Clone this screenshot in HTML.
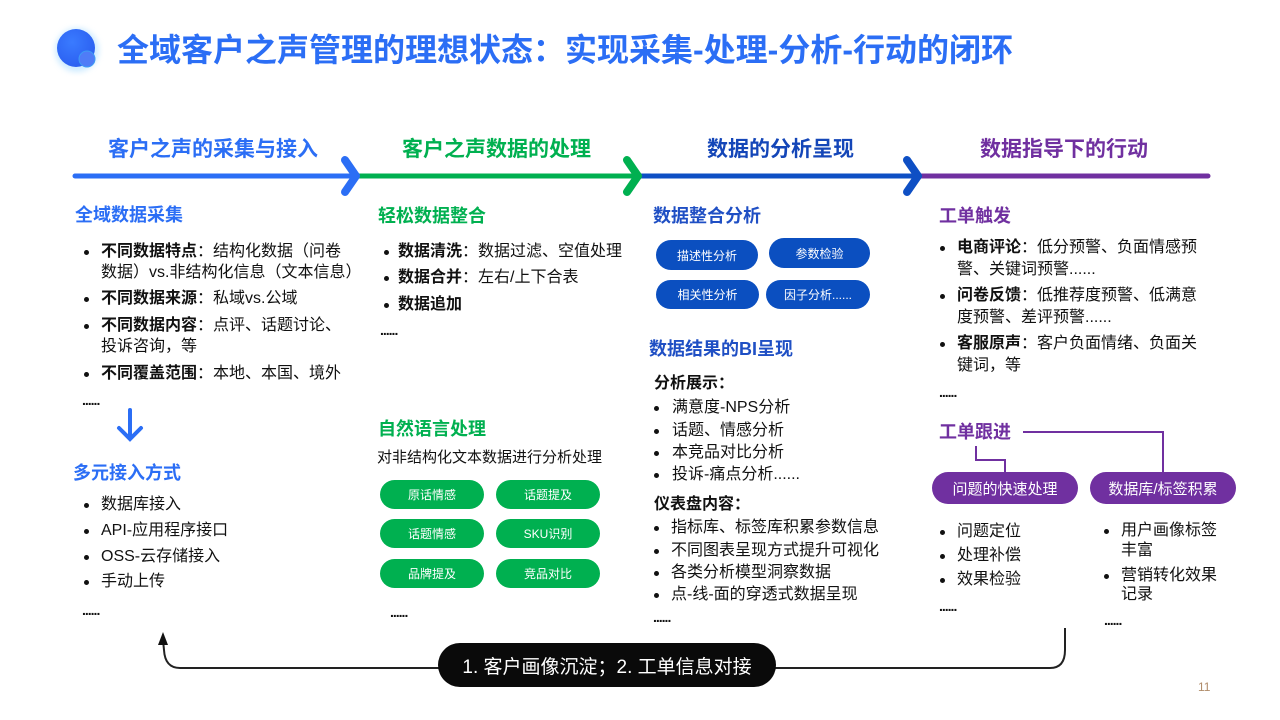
<!DOCTYPE html>
<html><head><meta charset="utf-8"><style>
*{margin:0;padding:0;box-sizing:border-box}
body{width:1280px;height:720px;background:#fff;position:relative;overflow:hidden;font-family:"Liberation Sans","Noto Sans CJK SC",sans-serif;color:#111}
.t{position:absolute;white-space:nowrap;font-size:16px;line-height:20px}
.e{position:absolute;white-space:nowrap;font-size:14px;line-height:20px;font-weight:bold;letter-spacing:-1px}
.h{position:absolute;white-space:nowrap;font-size:18px;line-height:24px;font-weight:bold}
.d{position:absolute;width:5px;height:5px;border-radius:50%;background:#111}
.p{position:absolute;border-radius:16px;color:#fff;font-size:12px;display:flex;align-items:center;justify-content:center}
b{font-weight:bold}
</style></head><body>
<svg width="1280" height="720" style="position:absolute;left:0;top:0">
<defs><radialGradient id="g" cx="0.4" cy="0.35" r="0.7"><stop offset="0" stop-color="#3a7bff"/><stop offset="1" stop-color="#2a5ef0"/></radialGradient>
<filter id="bl"><feGaussianBlur stdDeviation="3"/></filter></defs>
<circle cx="77" cy="50" r="22" fill="#9fd8ff" opacity="0.5" filter="url(#bl)"/>
<circle cx="76" cy="48" r="19" fill="url(#g)"/>
<circle cx="87" cy="59" r="8" fill="#4f7cf7" stroke="#3d9bf5" stroke-width="1"/>
<g stroke-width="5" stroke-linecap="round">
<line x1="75" y1="176" x2="355" y2="176" stroke="#2b6ef5"/>
<line x1="357" y1="176" x2="636" y2="176" stroke="#00b050"/>
<line x1="640" y1="176" x2="915" y2="176" stroke="#0e4fc4"/>
<line x1="920" y1="176" x2="1208" y2="176" stroke="#7030a0"/>
</g>
<g fill="none" stroke-width="8" stroke-linecap="round" stroke-linejoin="round">
<polyline points="345,160 356,176 345,192" stroke="#2b6ef5"/>
<polyline points="627,160 638,176 627,192" stroke="#00b050"/>
<polyline points="907,160 918,176 907,192" stroke="#0e4fc4"/>
</g>
<g fill="none" stroke="#2b6ef5" stroke-width="4" stroke-linecap="round">
<line x1="130" y1="410" x2="130" y2="438"/><polyline points="119,428 130,439 141,428"/>
</g>
<g fill="none" stroke="#7030a0" stroke-width="2">
<polyline points="1023,432 1163,432 1163,473"/>
<polyline points="976,446 976,460 1005,460 1005,473"/>
</g>
<g fill="none" stroke="#222" stroke-width="2">
<path d="M440,668 L180,668 Q165,668 164,650 L163,640"/>
<path d="M775,668 L1050,668 Q1065,668 1065,650 L1065,628"/>
</g>
<polygon points="163,632 158,645 168,645" fill="#111"/>
</svg>
<div class="h" style="left:117px;top:30px;font-size:32px;line-height:40px;color:#2b6ef5">全域客户之声管理的理想状态：实现采集-处理-分析-行动的闭环</div>
<div class="h" style="left:108px;top:136px;font-size:21px;line-height:28px;color:#2b6ef5">客户之声的采集与接入</div>
<div class="h" style="left:402px;top:136px;font-size:21px;line-height:28px;color:#00b050">客户之声数据的处理</div>
<div class="h" style="left:707px;top:136px;font-size:21px;line-height:28px;color:#1446b8">数据的分析呈现</div>
<div class="h" style="left:980px;top:136px;font-size:21px;line-height:28px;color:#7030a0">数据指导下的行动</div>

<div class="h" style="left:75px;top:203px;color:#2b6ef5">全域数据采集</div>
<div class="d" style="left:84px;top:250px"></div><div class="t" style="left:101px;top:242px"><b>不同数据特点</b>：结构化数据（问卷</div>
<div class="t" style="left:101px;top:263px">数据）vs.非结构化信息（文本信息）</div>
<div class="d" style="left:84px;top:297px"></div><div class="t" style="left:101px;top:289px"><b>不同数据来源</b>：私域vs.公域</div>
<div class="d" style="left:84px;top:324px"></div><div class="t" style="left:101px;top:316px"><b>不同数据内容</b>：点评、话题讨论、</div>
<div class="t" style="left:101px;top:337px">投诉咨询，等</div>
<div class="d" style="left:84px;top:372px"></div><div class="t" style="left:101px;top:364px"><b>不同覆盖范围</b>：本地、本国、境外</div>
<div class="e" style="left:82px;top:390px">......</div>
<div class="h" style="left:73px;top:461px;color:#2b6ef5">多元接入方式</div>
<div class="d" style="left:84px;top:503px"></div><div class="t" style="left:101px;top:495px">数据库接入</div>
<div class="d" style="left:84px;top:529px"></div><div class="t" style="left:101px;top:521px">API-应用程序接口</div>
<div class="d" style="left:84px;top:555px"></div><div class="t" style="left:101px;top:547px">OSS-云存储接入</div>
<div class="d" style="left:84px;top:580px"></div><div class="t" style="left:101px;top:572px">手动上传</div>
<div class="e" style="left:82px;top:600px">......</div>

<div class="h" style="left:378px;top:204px;color:#00b050">轻松数据整合</div>
<div class="d" style="left:384px;top:250px"></div><div class="t" style="left:398px;top:242px"><b>数据清洗</b>：数据过滤、空值处理</div>
<div class="d" style="left:384px;top:276px"></div><div class="t" style="left:398px;top:268px"><b>数据合并</b>：左右/上下合表</div>
<div class="d" style="left:384px;top:303px"></div><div class="t" style="left:398px;top:295px"><b>数据追加</b></div>
<div class="e" style="left:380px;top:320px">......</div>
<div class="h" style="left:378px;top:417px;color:#00b050">自然语言处理</div>
<div class="t" style="left:377px;top:448px;font-size:15px">对非结构化文本数据进行分析处理</div>
<div class="p" style="left:380px;top:480px;width:104px;height:29px;background:#00b050">原话情感</div>
<div class="p" style="left:496px;top:480px;width:104px;height:29px;background:#00b050">话题提及</div>
<div class="p" style="left:380px;top:519px;width:104px;height:29px;background:#00b050">话题情感</div>
<div class="p" style="left:496px;top:519px;width:104px;height:29px;background:#00b050">SKU识别</div>
<div class="p" style="left:380px;top:559px;width:104px;height:29px;background:#00b050">品牌提及</div>
<div class="p" style="left:496px;top:559px;width:104px;height:29px;background:#00b050">竞品对比</div>
<div class="e" style="left:390px;top:602px">......</div>

<div class="h" style="left:653px;top:204px;color:#1f4fc4">数据整合分析</div>
<div class="p" style="left:656px;top:240px;width:102px;height:30px;background:#0b4fc0">描述性分析</div>
<div class="p" style="left:769px;top:238px;width:101px;height:30px;background:#0b4fc0">参数检验</div>
<div class="p" style="left:656px;top:280px;width:103px;height:29px;background:#0b4fc0">相关性分析</div>
<div class="p" style="left:766px;top:280px;width:104px;height:29px;background:#0b4fc0">因子分析......</div>
<div class="h" style="left:649px;top:337px;color:#1f4fc4">数据结果的BI呈现</div>
<div class="t" style="left:654px;top:374px;font-weight:bold">分析展示：</div>
<div class="d" style="left:654px;top:406px"></div><div class="t" style="left:672px;top:398px">满意度-NPS分析</div>
<div class="d" style="left:654px;top:429px"></div><div class="t" style="left:672px;top:421px">话题、情感分析</div>
<div class="d" style="left:654px;top:451px"></div><div class="t" style="left:672px;top:443px">本竞品对比分析</div>
<div class="d" style="left:654px;top:473px"></div><div class="t" style="left:672px;top:465px">投诉-痛点分析......</div>
<div class="t" style="left:654px;top:495px;font-weight:bold">仪表盘内容：</div>
<div class="d" style="left:654px;top:526px"></div><div class="t" style="left:671px;top:518px">指标库、标签库积累参数信息</div>
<div class="d" style="left:654px;top:549px"></div><div class="t" style="left:671px;top:541px">不同图表呈现方式提升可视化</div>
<div class="d" style="left:654px;top:571px"></div><div class="t" style="left:671px;top:563px">各类分析模型洞察数据</div>
<div class="d" style="left:654px;top:593px"></div><div class="t" style="left:671px;top:585px">点-线-面的穿透式数据呈现</div>
<div class="e" style="left:653px;top:607px">......</div>

<div class="h" style="left:939px;top:204px;color:#7030a0">工单触发</div>
<div class="d" style="left:940px;top:246px"></div><div class="t" style="left:957px;top:238px"><b>电商评论</b>：低分预警、负面情感预</div>
<div class="t" style="left:957px;top:260px">警、关键词预警......</div>
<div class="d" style="left:940px;top:294px"></div><div class="t" style="left:957px;top:286px"><b>问卷反馈</b>：低推荐度预警、低满意</div>
<div class="t" style="left:957px;top:308px">度预警、差评预警......</div>
<div class="d" style="left:940px;top:342px"></div><div class="t" style="left:957px;top:334px"><b>客服原声</b>：客户负面情绪、负面关</div>
<div class="t" style="left:957px;top:356px">键词，等</div>
<div class="e" style="left:939px;top:382px">......</div>
<div class="h" style="left:939px;top:420px;color:#7030a0">工单跟进</div>
<div class="p" style="left:932px;top:472px;width:146px;height:32px;background:#7030a0;font-size:15px">问题的快速处理</div>
<div class="p" style="left:1090px;top:472px;width:146px;height:32px;background:#7030a0;font-size:15px">数据库/标签积累</div>
<div class="d" style="left:940px;top:530px"></div><div class="t" style="left:957px;top:522px">问题定位</div>
<div class="d" style="left:940px;top:554px"></div><div class="t" style="left:957px;top:546px">处理补偿</div>
<div class="d" style="left:940px;top:578px"></div><div class="t" style="left:957px;top:570px">效果检验</div>
<div class="e" style="left:939px;top:596px">......</div>
<div class="d" style="left:1104px;top:529px"></div><div class="t" style="left:1121px;top:521px">用户画像标签</div>
<div class="t" style="left:1121px;top:541px">丰富</div>
<div class="d" style="left:1104px;top:574px"></div><div class="t" style="left:1121px;top:566px">营销转化效果</div>
<div class="t" style="left:1121px;top:585px">记录</div>
<div class="e" style="left:1104px;top:610px">......</div>

<div class="p" style="left:438px;top:643px;width:338px;height:44px;border-radius:22px;background:#0a0a0a;font-size:19px">1. 客户画像沉淀；2. 工单信息对接</div>
<div class="t" style="left:1198px;top:677px;font-size:12px;color:#b08c6a">11</div>
</body></html>
